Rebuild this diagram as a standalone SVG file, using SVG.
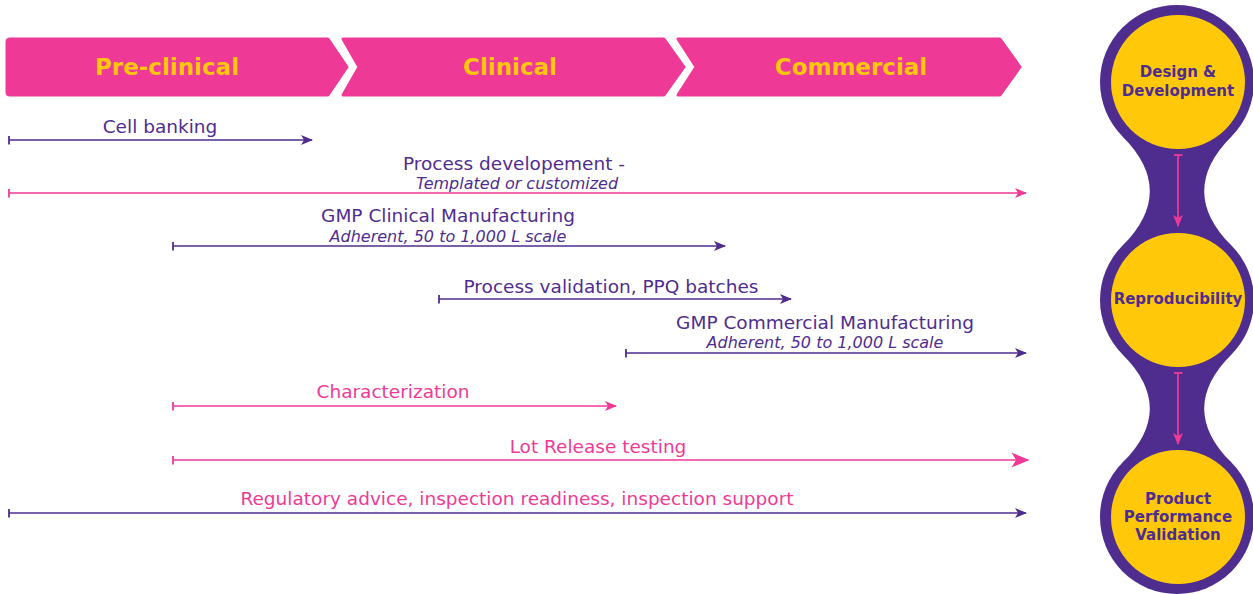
<svg xmlns="http://www.w3.org/2000/svg" width="1253" height="594" viewBox="0 0 1253 594">
<defs>
<style>
.phase{fill:#EE3A96;stroke:#EE3A96;stroke-width:3;stroke-linejoin:round}
.phtxt{font-family:"DejaVu Sans",Verdana,sans-serif;font-weight:bold;font-size:23px;fill:#FFC60B;text-anchor:middle}
.lbl{font-family:"DejaVu Sans",Verdana,sans-serif;font-size:18.5px;text-anchor:middle}
.sub{font-family:"DejaVu Sans",Verdana,sans-serif;font-size:16px;font-style:italic;text-anchor:middle;fill:#4F2D8F}
.pur{fill:#4F2D8F}
.pnk{fill:#EE3A96}
.lp{stroke:#4F2D8F;stroke-width:1.7;fill:none}
.lk{stroke:#EE3A96;stroke-width:1.7;fill:none}
.ctxt{font-family:"DejaVu Sans",Verdana,sans-serif;font-weight:bold;font-size:15px;fill:#4F2D8F;text-anchor:middle}
</style>
<marker id="ap" viewBox="0 0 12 10" refX="11" refY="5" markerWidth="12" markerHeight="10" markerUnits="userSpaceOnUse" orient="auto"><path d="M0,0 L12,5 L0,10 L3,5 Z" fill="#4F2D8F"/></marker>
<marker id="ak" viewBox="0 0 12 10" refX="11" refY="5" markerWidth="12" markerHeight="10" markerUnits="userSpaceOnUse" orient="auto"><path d="M0,0 L12,5 L0,10 L3,5 Z" fill="#EE3A96"/></marker>
<marker id="akb" viewBox="0 0 12 10" refX="11" refY="5" markerWidth="18" markerHeight="18" markerUnits="userSpaceOnUse" orient="auto"><path d="M0,0 L12,5 L0,10 L3,5 Z" fill="#EE3A96"/></marker>
<marker id="tp" viewBox="0 0 2 10" refX="1" refY="5" markerWidth="2" markerHeight="9" markerUnits="userSpaceOnUse" orient="auto"><rect x="0" y="0" width="2" height="10" fill="#4F2D8F"/></marker>
<marker id="tk" viewBox="0 0 2 10" refX="1" refY="5" markerWidth="2" markerHeight="9" markerUnits="userSpaceOnUse" orient="auto"><rect x="0" y="0" width="2" height="10" fill="#EE3A96"/></marker>
</defs>

<g id="phase-preclinical">
<path class="phase" d="M10,39 L328,39 L347,67 L328,95 L10,95 Q7,95 7,92 L7,42 Q7,39 10,39 Z"/>
<text class="phtxt" x="167" y="75">Pre-clinical</text>
</g>
<g id="phase-clinical">
<path class="phase" d="M343,39 L664,39 L684,67 L664,95 L343,95 L359,67 Z"/>
<text class="phtxt" x="510" y="75">Clinical</text>
</g>
<g id="phase-commercial">
<path class="phase" d="M678,39 L1000,39 L1020,67 L1000,95 L678,95 L696,67 Z"/>
<text class="phtxt" x="851" y="75">Commercial</text>
</g>

<g id="cycle-shape">
<circle cx="1177" cy="82" r="77" class="pur"/>
<circle cx="1177" cy="300" r="77" class="pur"/>
<circle cx="1177" cy="517" r="77" class="pur"/>
<path class="pur" d="M1122.6,136.4 Q1177,191 1122.6,245.6 L1231.4,245.6 Q1177,191 1231.4,136.4 Z"/>
<path class="pur" d="M1122.6,354.4 Q1177,408.5 1122.6,462.6 L1231.4,462.6 Q1177,408.5 1231.4,354.4 Z"/>
</g>
<g id="node-design">
<circle cx="1178" cy="82" r="67" fill="#FFC90A"/>
<text class="ctxt" x="1178" y="77">Design &amp;</text>
<text class="ctxt" x="1178" y="96">Development</text>
</g>
<g id="node-reproducibility">
<circle cx="1178" cy="300" r="67" fill="#FFC90A"/>
<text class="ctxt" x="1178" y="304">Reproducibility</text>
</g>
<g id="node-validation">
<circle cx="1178" cy="517" r="67" fill="#FFC90A"/>
<text class="ctxt" x="1178" y="504">Product</text>
<text class="ctxt" x="1178" y="522">Performance</text>
<text class="ctxt" x="1178" y="540">Validation</text>
</g>

<g id="connectors">
<line class="lk" x1="1178" y1="155" x2="1178" y2="226" marker-start="url(#tk)" marker-end="url(#ak)"/>
<line class="lk" x1="1178" y1="373" x2="1178" y2="444" marker-start="url(#tk)" marker-end="url(#ak)"/>

<line class="lp" x1="9" y1="140" x2="312" y2="140" marker-start="url(#tp)" marker-end="url(#ap)"/>
<line class="lk" x1="9" y1="193" x2="1026" y2="193" marker-start="url(#tk)" marker-end="url(#ak)"/>
<line class="lp" x1="173" y1="246" x2="725" y2="246" marker-start="url(#tp)" marker-end="url(#ap)"/>
<line class="lp" x1="439" y1="299" x2="791" y2="299" marker-start="url(#tp)" marker-end="url(#ap)"/>
<line class="lp" x1="626" y1="353" x2="1026" y2="353" marker-start="url(#tp)" marker-end="url(#ap)"/>
<line class="lk" x1="173" y1="406" x2="616" y2="406" marker-start="url(#tk)" marker-end="url(#ak)"/>
<line class="lk" x1="173" y1="460" x2="1028" y2="460" marker-start="url(#tk)" marker-end="url(#akb)"/>
<line class="lp" x1="9" y1="513" x2="1026" y2="513" marker-start="url(#tp)" marker-end="url(#ap)"/>
</g>

<g id="labels">
<text class="lbl pur" x="160" y="133">Cell banking</text>
<text class="lbl pur" x="514" y="170">Process developement -</text>
<text class="sub" x="517" y="189">Templated or customized</text>
<text class="lbl pur" x="448" y="222">GMP Clinical Manufacturing</text>
<text class="sub" x="448" y="242">Adherent, 50 to 1,000 L scale</text>
<text class="lbl pur" x="611" y="293">Process validation, PPQ batches</text>
<text class="lbl pur" x="825" y="329">GMP Commercial Manufacturing</text>
<text class="sub" x="825" y="348">Adherent, 50 to 1,000 L scale</text>
<text class="lbl pnk" x="393" y="398">Characterization</text>
<text class="lbl pnk" x="598" y="453">Lot Release testing</text>
<text class="lbl pnk" x="517" y="505">Regulatory advice, inspection readiness, inspection support</text>
</g>
</svg>
